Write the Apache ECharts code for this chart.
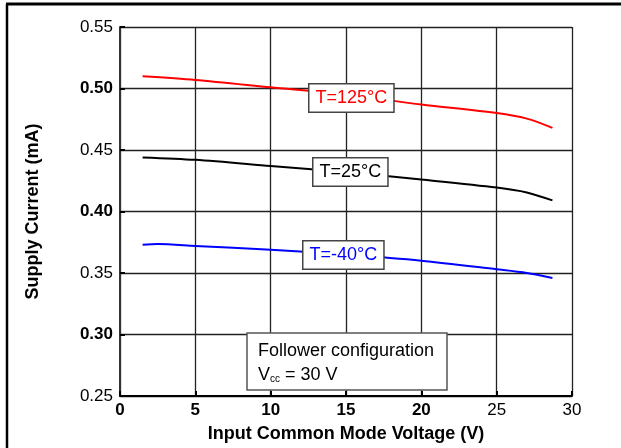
<!DOCTYPE html>
<html><head><meta charset="utf-8">
<script src="https://cdn.jsdelivr.net/npm/echarts@6/dist/echarts.min.js"></script>
<style>html,body{margin:0;padding:0;background:#fff}#c{width:621px;height:448px}</style>
</head><body><div id="c"></div>
<script>
var xTicks = [0, 5, 10, 15, 20, 25, 30];
var yTicks = [0.25, 0.30, 0.35, 0.40, 0.45, 0.50, 0.55];
var red125 = [[1.5,0.510],[5,0.507],[10,0.501],[15,0.495],[20,0.487],[25,0.480],[27,0.4755],[28.7,0.468]];
var black25 = [[1.5,0.444],[5,0.442],[10,0.437],[15,0.432],[20,0.426],[25,0.4195],[27,0.4155],[28.7,0.409]];
var blue40 = [[1.5,0.373],[2.5,0.3735],[5,0.372],[10,0.369],[15,0.365],[20,0.360],[25,0.353],[27,0.350],[28.7,0.346]];
var seriesNames = ['T=125°C','T=25°C','T=-40°C'];
var noteLines = ['Follower configuration','V','cc',' = 30 V'];

var chart = echarts.init(document.getElementById('c'));
var F = 'Liberation Sans, Arial, sans-serif';
function lbl(text, color, x, y){
  return {type:'text', left:x, top:y, z:10, style:{text:text, fill:color, font:'18px '+F,
    backgroundColor:'#fff', borderColor:'#444', borderWidth:1.5, padding:[5,6,4,6]}};
}
chart.setOption({
  animation:false,
  grid:{left:120, right:49, top:27, bottom:52},
  xAxis:{type:'value', min:0, max:30, interval:5,
    name:'Input Common Mode Voltage (V)', nameLocation:'middle', nameGap:29,
    nameTextStyle:{fontFamily:F, fontSize:18, fontWeight:'bold', color:'#000'},
    axisLine:{lineStyle:{color:'#000', width:2}},
    axisTick:{inside:true, length:5, lineStyle:{color:'#000', width:2}},
    axisLabel:{margin:6, fontFamily:F, fontSize:17, color:'#000',
      formatter:function(v){ return v<=20 ? '{b|'+v+'}' : '{n|'+v+'}'; },
      rich:{b:{fontWeight:'bold', fontSize:17, fontFamily:F}, n:{fontSize:17, fontFamily:F}}},
    splitLine:{show:true, lineStyle:{color:'#222', width:1.3}}
  },
  yAxis:{type:'value', min:0.25, max:0.55, interval:0.05,
    name:'Supply Current (mA)', nameLocation:'middle', nameGap:78, nameRotate:90,
    nameTextStyle:{fontFamily:F, fontSize:18, fontWeight:'bold', color:'#000'},
    axisLine:{show:true, lineStyle:{color:'#333', width:2}},
    axisTick:{show:true, inside:true, length:5, lineStyle:{color:'#000', width:2}},
    axisLabel:{margin:7, fontFamily:F, fontSize:17, color:'#000',
      formatter:function(v){ var s=v.toFixed(2); var i=Math.round((v-0.25)/0.05); return i%2===1 ? '{b|'+s+'}' : '{n|'+s+'}'; },
      rich:{b:{fontWeight:'bold', fontSize:17, fontFamily:F}, n:{fontSize:17, fontFamily:F}}},
    splitLine:{show:true, lineStyle:{color:'#222', width:1.3}}
  },
  series:[
    {name:seriesNames[0], type:'line', smooth:0.3, symbol:'none', data:red125, lineStyle:{color:'#ff0000', width:2}},
    {name:seriesNames[1], type:'line', smooth:0.3, symbol:'none', data:black25, lineStyle:{color:'#000', width:2}},
    {name:seriesNames[2], type:'line', smooth:0.3, symbol:'none', data:blue40, lineStyle:{color:'#0000ff', width:2}}
  ],
  graphic:[
    {type:'line', shape:{x1:6, y1:4, x2:621, y2:4}, style:{stroke:'#000', lineWidth:3}},
    {type:'line', shape:{x1:7, y1:4, x2:7, y2:448}, style:{stroke:'#000', lineWidth:2.5}},
    lbl(seriesNames[0], '#ff0000', 308, 83),
    lbl(seriesNames[1], '#000', 312, 157),
    lbl(seriesNames[2], '#0000ff', 302, 240),
    {type:'rect', shape:{x:247, y:333, width:200, height:57}, style:{fill:'#fff', stroke:'#555', lineWidth:1.5}, z:9},
    {type:'text', left:258, top:342, z:10, style:{text:noteLines[0], fill:'#000', font:'18px '+F}},
    {type:'text', left:258, top:366, z:10, style:{text:'{v|'+noteLines[1]+'}{s|'+noteLines[2]+'}{v|'+noteLines[3]+'}', fill:'#000', font:'18px '+F,
      rich:{v:{fontSize:18, fontFamily:F, verticalAlign:'bottom'}, s:{fontSize:10, fontFamily:F, padding:[9,0,0,0]}}}}
  ]
});
</script></body></html>
